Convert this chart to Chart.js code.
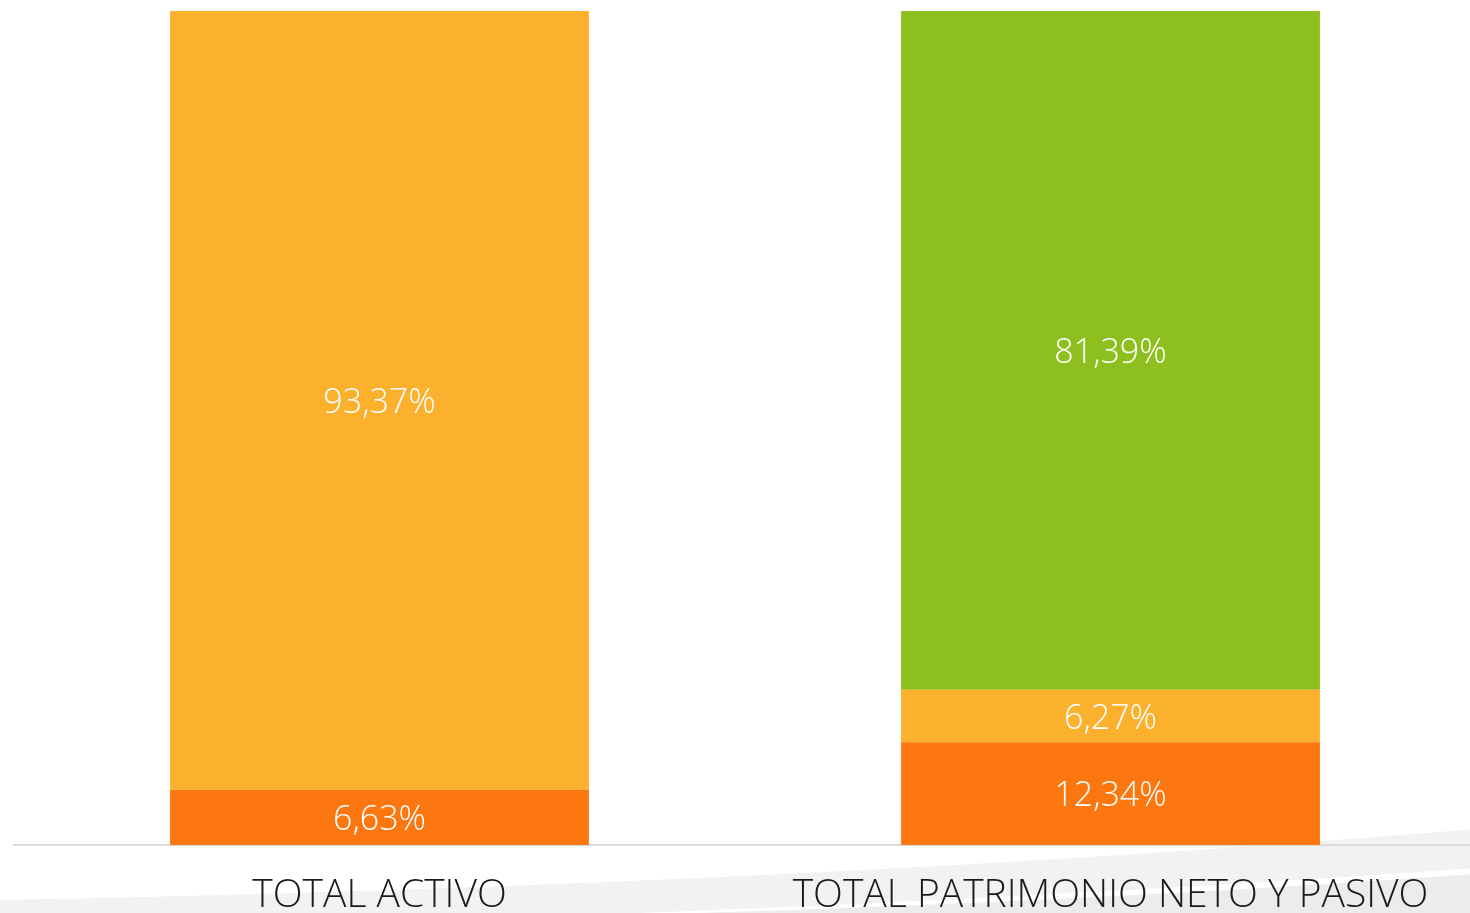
<!DOCTYPE html>
<html lang="es">
<head>
<meta charset="UTF-8">
<title>Total activo / patrimonio neto y pasivo</title>
<script src="https://cdn.jsdelivr.net/npm/chart.js@4.4.1/dist/chart.umd.min.js"></script>
<style>
  html, body { margin: 0; padding: 0; background: #fff; overflow: hidden; }
  .wrap { position: relative; width: 1476px; height: 913px; }
</style>
</head>
<body>
<div class="wrap"><canvas id="balance"></canvas></div>
<script>
  const categories = ['TOTAL ACTIVO', 'TOTAL PATRIMONIO NETO Y PASIVO'];
  const serieNaranja = [6.63, 12.34];
  const serieAmarilla = [93.37, 6.27];
  const serieVerde = [null, 81.39];

  const naranja = '#fd7711';
  const amarillo = '#fbb12e';
  const verde = '#8dc01e';

  // gray swoosh behind the axis, like the report page background
  const swoosh = {
    id: 'swoosh',
    beforeDraw(chart) {
      const c = chart.ctx;
      c.save();
      c.fillStyle = '#f2f2f2';
      c.beginPath();
      c.moveTo(0, 900);
      c.quadraticCurveTo(800, 885, 1476, 829);
      c.lineTo(1476, 913);
      c.lineTo(0, 913);
      c.closePath();
      c.fill();
      c.fillStyle = '#ffffff';
      c.beginPath();
      c.moveTo(640, 913);
      c.quadraticCurveTo(1100, 895, 1476, 868);
      c.lineTo(1476, 874);
      c.quadraticCurveTo(1100, 901, 700, 913);
      c.closePath();
      c.fill();
      c.fillStyle = '#ececec';
      c.beginPath();
      c.moveTo(700, 913);
      c.quadraticCurveTo(1100, 901, 1476, 874);
      c.lineTo(1476, 913);
      c.closePath();
      c.fill();
      c.restore();
    }
  };

  // percentage text in the middle of each segment
  const valueLabels = {
    id: 'valueLabels',
    afterDatasetsDraw(chart) {
      const c = chart.ctx;
      c.save();
      c.fillStyle = '#ffffff';
      c.font = '300 34px "Open Sans", "Noto Sans", sans-serif';
      c.textAlign = 'center';
      c.textBaseline = 'middle';
      chart.data.datasets.forEach((ds, i) => {
        chart.getDatasetMeta(i).data.forEach((bar, j) => {
          const v = ds.data[j];
          if (v == null) return;
          const y = (bar.y + bar.base) / 2 + 3;
          c.fillText(v.toFixed(2).replace('.', ',') + '%', bar.x, y);
        });
      });
      c.restore();
    }
  };

  new Chart(document.getElementById('balance'), {
    type: 'bar',
    data: {
      labels: categories,
      datasets: [
        { data: serieNaranja, backgroundColor: naranja },
        { data: serieAmarilla, backgroundColor: amarillo },
        { data: serieVerde, backgroundColor: verde }
      ]
    },
    options: {
      responsive: true,
      maintainAspectRatio: false,
      animation: false,
      layout: { padding: { left: 14, right: 0, top: 11, bottom: -33 } },
      datasets: { bar: { barPercentage: 0.573, categoryPercentage: 1, borderWidth: 0 } },
      plugins: { legend: { display: false }, tooltip: { enabled: false } },
      scales: {
        x: {
          stacked: true,
          grid: { display: false, drawTicks: false },
          border: { display: true, color: '#dcdcdc', width: 2 },
          ticks: {
            color: '#1a1a1a',
            padding: 29,
            font: { family: '"Open Sans", "Noto Sans", sans-serif', size: 39, weight: '300', lineHeight: 1.1 }
          }
        },
        y: { stacked: true, display: false, min: 0, max: 100 }
      }
    },
    plugins: [swoosh, valueLabels]
  });
</script>
</body>
</html>
